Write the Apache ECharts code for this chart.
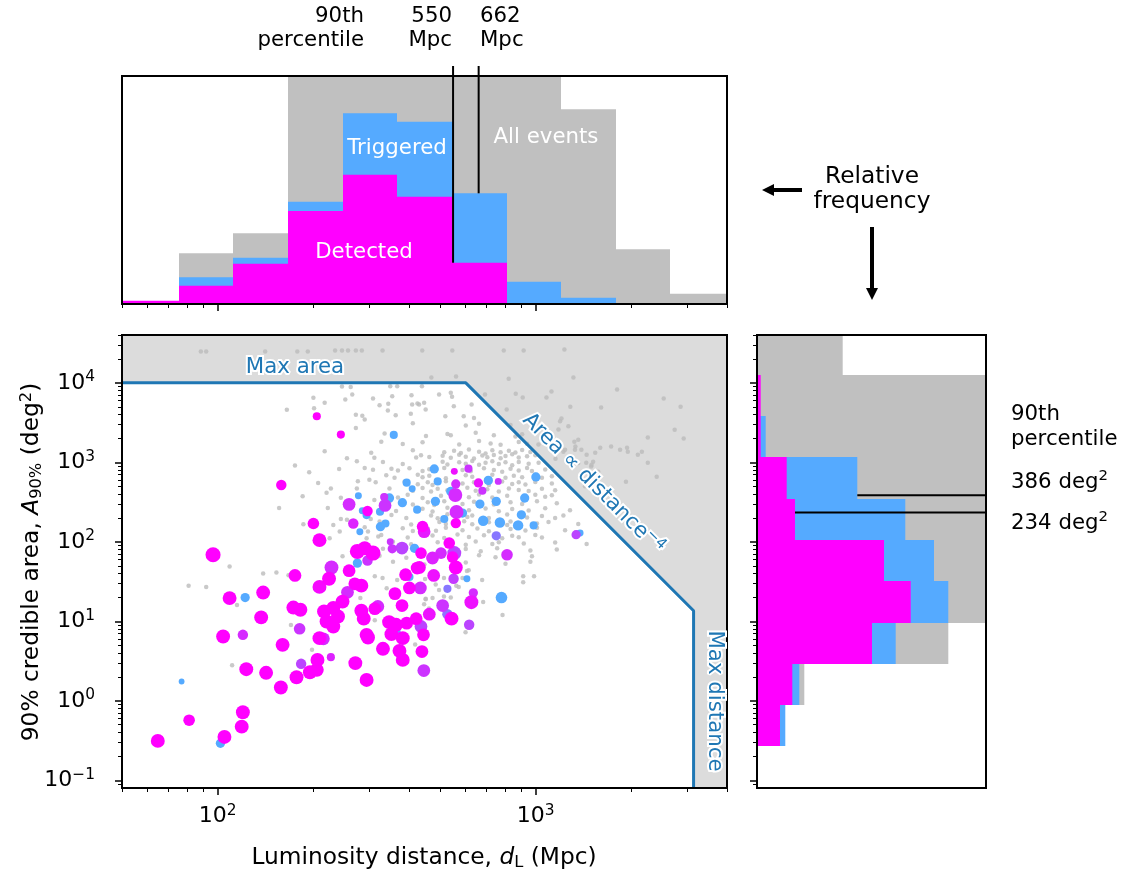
<!DOCTYPE html>
<html><head><meta charset="utf-8">
<script src="https://cdn.jsdelivr.net/npm/echarts@6/dist/echarts.min.js"></script>
<style>html,body{margin:0;padding:0;background:#fff}#c{width:1128px;height:873px}</style>
</head><body><div id="c"></div>
<script>
// ---------------- DATA ----------------
const distEdges = [50, 75.4, 112, 166, 247, 367, 549, 810, 1203, 1787, 2655, 4000];
const histAllTop  = [2, 50.7, 70.7, 265, 310, 330, 300, 260, 194.7, 54.7, 10.3];
const histTrigTop = [2, 26.7, 46.3, 102.3, 190.7, 182.3, 110.7, 22.3, 6.3, 0, 0];
const histDetTop  = [3.3, 18.3, 40.3, 93, 129.3, 107.3, 41.3, 0.7, 0.7, 0, 0];

const areaEdges = [0.08, 0.268, 0.887, 2.92, 9.66, 31.7, 105, 349, 1156, 3796, 12460, 40000];
const histAllRight  = [0, 26, 47.3, 191.3, 260, 300, 320, 310, 290, 250, 85.7];
const histTrigRight = [0, 28.3, 42.3, 138.7, 191.3, 177, 148.3, 100.3, 8.7, 3, 0];
const histDetRight  = [0, 23, 35.3, 115, 153.7, 127, 38, 29.7, 3.7, 3.7, 0];

const distP90 = {det: 550, trig: 662};
const areaP90 = {trig: 386, det: 234};

const boundaryDist = [50, 603, 3140, 3140];
const boundaryArea = [10000, 10000, 13.6, 0.08];

const xMajorTicks = [100, 1000];
const xMinorTicks = [50, 60, 70, 80, 90, 200, 300, 400, 500, 600, 700, 800, 900, 2000, 3000, 4000];
const yMajorTicks = [0.1, 1, 10, 100, 1000, 10000];
const yMinorTicks = [0.09, 0.2, 0.3, 0.4, 0.5, 0.6, 0.7, 0.8, 0.9, 2, 3, 4, 5, 6, 7, 8, 9,
  20, 30, 40, 50, 60, 70, 80, 90, 200, 300, 400, 500, 600, 700, 800, 900,
  2000, 3000, 4000, 5000, 6000, 7000, 8000, 9000, 20000, 30000, 40000];

// all events: [distance Mpc, area deg2]
const allEvents = [
[88.5,24800],[92,24800],[141,24800],[178,24800],[192,24800],[234,25500],[246,25500],[257,25500],[272,25500],[284,25500],[330,25500],[440,25500],[547,25500],[794,25500],[917,25500],[1232,26300],
[470,11660],[562,12040],[823,11300],[1315,11660],[693,7130],[866,7300],[911,6530],[1082,6530],[1122,7760],[1804,8240],[2529,6340],[2858,5020],[1286,5020],[1607,4890],[811,4610],[1206,3550],[1324,1820],[1334,1580],[1393,1445],[1540,1325],[1597,1530],[1728,1580],[1844,1445],[1939,1530],[1950,1364],[2097,1250],[2159,1364],[2254,991],[2404,661],[2738,2580],[2923,1990],[2254,2050],[1517,1020],[1443,991],[1496,884],[1574,764],[1924,572],[1223,1364],[1155,1113],[1021,1672],
[1180,2582],[1268,2843],[1362,1931],[1330,1445],[1447,1250],[1500,935],[1362,981],[1238,1445],[1194,3287],[1430,499],[1379,667],
[200,6500],[165,4600],[201,4790],[217,5610],[246,9000],[262,8850],[265,7120],[252,6160],[308,6370],[323,5230],[344,5440],[349,9060],[367,9060],[354,6780],[407,6980],[409,5330],[425,5500],[439,9060],[285,3870],[290,3450],[272,3980],[343,4480],[363,3900],[405,4100],[272,2700],[217,1380],[255,1130],[274,1030],[304,1320],[311,1140],[175,910],[194,750],[241,825],[290,850],[308,806],[300,603],[314,560],[276,580],[274,470],[207,550],[227,470],[185,375],[220,415],[244,358],[311,337],[156,266],[222,266],[244,194],[255,189],[303,194],[186,167],[231,163],[290,153],[297,135],[242,135],[225,111],[294,111],[320,117],
[430,5330],[446,5610],[451,4610],[497,7120],[541,7500],[546,6700],[629,5330],[553,5060],[520,3800],[594,3800],[640,3610],
[411,3100],[603,2900],[664,3050],[834,2950],
[335,2300],[452,2150],[528,2280],[541,2190],[648,2350],[739,2200],[864,2120],[907,2260],
[327,1820],[382,1700],[441,1790],[575,1680],[664,1850],[722,1730],[776,1660],[885,1800],[940,1710],
[411,1420],[516,1340],[554,1400],[582,1310],[617,1450],[664,1360],[696,1290],[731,1420],[776,1340],[824,1400],[864,1330],[907,1430],[963,1350],
[421,1150],[436,1230],[463,1170],[510,1210],[541,1140],[575,1250],[603,1180],[640,1120],[680,1220],[705,1160],[739,1240],[776,1130],[804,1200],[844,1260],[885,1150],[940,1190],[998,1230],
[331,1010],[382,950],[510,1020],[528,940],[575,1000],[603,960],[632,1040],[664,930],[696,990],[731,1030],[766,950],[804,1000],[844,920],[885,1010],[951,960],[1022,990],
[352,830],[369,790],[401,840],[441,780],[463,820],[516,850],[589,800],[625,770],[688,840],[739,800],[785,760],[834,830],[885,790],[940,850],[974,780],[1072,810],
[339,690],[360,640],[426,700],[441,650],[463,680],[522,630],[603,690],[632,660],[731,700],[804,640],[854,680],[907,650],[998,700],[1047,640],[1125,670],
[387,570],[426,530],[458,560],[474,520],[522,580],[589,540],[640,560],[713,520],[785,575],[844,535],[885,560],[929,525],[998,565],[1125,540],
[347,470],[411,440],[441,475],[469,430],[492,465],[528,445],[610,480],[648,440],[705,460],[766,430],[824,470],[885,450],[951,435],[1047,465],[1152,445],
[335,385],[369,360],[396,390],[441,355],[504,380],[617,365],[664,395],[731,360],[814,380],[929,350],[998,390],[1072,370],[1125,385],
[347,320],[411,295],[458,315],[480,290],[516,325],[589,300],[640,320],[739,295],[834,315],[907,300],[1010,325],[1166,305],
[331,265],[364,245],[441,260],[474,240],[528,268],[617,250],[696,262],[766,242],[844,258],[951,248],[1072,265],[1283,250],
[352,218],[392,200],[469,215],[492,198],[528,222],[610,205],[632,215],[713,200],[814,220],[940,202],[1047,212],[1152,200],[1223,215],
[323,180],[406,165],[498,178],[522,168],[596,182],[632,166],[713,176],[814,163],[834,180],[1010,170],[1098,178],[1362,168],
[382,148],[411,137],[458,146],[486,138],[522,150],[589,140],[656,147],[713,136],[834,145],[929,139],[1010,150],[1238,140],
[327,122],[396,113],[474,120],[516,112],[568,124],[617,115],[688,121],[785,111],[844,119],[885,114],[998,122],[1047,113],
[356,100],[406,93],[492,99],[603,92],[648,101],[731,94],[766,99],[918,95],[1152,98],[1447,94],
[331,82],[510,77],[603,81],[672,76],[757,83],[963,78],[1166,80],
[323,67],[392,63],[664,68],[748,64],[974,66],
[356,56],[447,52],[603,55],[804,53],[963,56],
[109,49],[139,40],[153,41],[167,38],[81,28],[92,27],[115,16],[170,9],[198,4.4],[111,2.8],[247,66],[270,68],[281,19.6],[312,37],[330,35],[312,10.3],[340,26],[367,33],[418,5.1],[446,16.4],[451,19.2],[449,34],
[989,37],[914,37],[914,31],[679,33],[608,43],[616,44],[589,35],[573,27],[563,28],[684,17.5],[787,12],[602,7.3],[515,35],[541,20],[515,20.5],[485,29],[497,24.7],[474,19.6],[451,19],[462,14.5]
];

// triggered / detected events: [distance Mpc, area deg2, detection fraction (0 = triggered only, 1 = detected), SNR]
const trigEvents = [
[205,3796,1,14],[244,2233,1,14],[358,2214,0,14],[158.5,519,1,18],[393,555,0,14],[409,466,0,12],[277,381,0,12],[334,367,0.7,14],[347,356,0,16],[259,296,0.75,22],[336,287,0.7,22],[381,311,0,16],[296,244,1,18],[285,246,0,12],[294,217,0,14],[324,239,0,14],[424,254,0,14],[200,170,1,20],[267,170,0.8,18],[325,155,0,16],[337,170,0,14],[280,134,0,12],[209,105,1,24],[441,156,1,20],[349,100,0.7,12],[96.7,68.7,1,26],[275,75.7,1,26],[290,83,1,24],[308,72.2,1,26],[354,81.8,0.7,16],[380,83.5,0.6,22],[416,83,0,16],[436,72.2,1,20],[275,54,0,16],[296,58.3,0.7,18],[228,47.6,0.75,24],[259,43.3,1,22],[175,37.8,1,22],[224,34.3,1,24],[209,27.1,0.95,24],[283,28.1,1,24],[270,29.6,1,22],[390,38.6,1,22],[401,36.1,0,14],[424,46.8,1,22],[401,26.3,1,22],[434,26.3,0.75,22],[361,22.3,1,22],[256,23.2,0.75,22],[247,17.7,1,24],[139,23,1,24],[109,19.6,1,24],[122,19.9,0,16],[380,15.8,1,22],[319,15.4,0.75,22],[312,14.4,1,22],[216,13.3,1,24],[231,14.7,1,24],[239,11.5,1,24],[220,9.95,1,24],[231,8.61,1,24],[283,13.6,1,24],[288,10.8,1,24],[173,14.9,1,24],[182,14,1,24],[137,11.2,1,24],[104,6.44,1,24],[120,6.76,0.75,18],[181,8.05,0.7,20],[160,5.06,1,24],[209,6.14,1,24],[215,6.02,0.75,22],[294,6.76,1,24],[297,6.25,1,24],[346,9.77,1,24],[364,9.04,1,24],[352,6.9,1,24],[364,7.31,0,16],[382,6.14,1,24],[393,9.49,1,22],[421,10.8,1,22],[436,8.61,0.6,22],[444,6.76,1,22],[331,4.51,1,24],[373,4.25,1,24],[382,3.27,1,24],[439,4.17,1,22],[445,2.4,0.7,22],[206,3.27,1,24],[205,2.45,1,24],[195,2.29,1,24],[227,3.54,0.8,14],[183,2.92,0.6,18],[271,2.98,1,24],[294,1.83,1,24],[123,2.5,1,24],[142,2.25,1,24],[177,1.98,1,24],[158,1.47,1,24],[77,1.75,0,10],[120,0.718,1,24],[119,0.473,1,24],[81.3,0.57,1,20],[102,0.292,0,16],[105,0.351,1,24],[64.8,0.313,1,24],
[480,826,0,16],[555,770,0.9,12],[615,833,0.7,14],[492,576,0,14],[561,535,0.75,16],[661,550,0.9,16],[710,593,0,16],[763,576,0.7,12],[680,440,0.7,14],[1002,655,0,16],[541,431,0,16],[559,388,0.75,24],[924,356,0,16],[752,323,0,16],[668,299,0,16],[484,323,0,16],[564,237,0.75,24],[589,230,0,16],[561,172,1,18],[516,194,0,14],[684,184,0,18],[902,219,0,16],[772,175,0,18],[881,161,0,18],[986,161,0,14],[752,119,0.3,16],[1341,123,0.6,16],[1380,129,0,12],[535,96.6,1,20],[504,72.2,0.75,20],[555,72.2,0.6,24],[548,64.4,1,20],[813,68.7,0.75,20],[474,62.6,0.8,22],[561,47.6,1,24],[431,47.6,1,22],[478,37.8,0.9,22],[552,34.3,0.65,18],[608,34.3,0,12],[528,25.6,0.3,14],[510,15.8,0.7,22],[637,22.8,0.75,16],[628,17.4,0.9,24],[781,19.9,0,20],[463,12.3,0.9,22],[528,12.3,0.35,18],[544,10.8,1,24],[618,9.04,0.6,18],[446,134,0.85,22]
];

// ---------------- STYLE ----------------
const F = 'DejaVu Sans';
const FS = 22;      // tick labels
const FT = 21.3;    // annotation text
const FA = 23.3;    // axis titles
const C_ALL = '#c0c0c0', C_TRIG = '#55aaff', C_DET = '#ff00ff', C_LINE = '#1f77b4';
function cool(t) { const r = Math.round(85 + 170 * t), g = Math.round(170 - 170 * t); return `rgb(${r},${g},255)`; }

const chart = echarts.init(document.getElementById('c'), null, {renderer: 'canvas'});

const grids = [
  {left: 122, top: 76, width: 605, height: 228},
  {left: 122, top: 335, width: 605, height: 453, show: true, backgroundColor: '#dcdcdc', borderWidth: 0},
  {left: 757, top: 335, width: 229, height: 453}
];

const richTick = {
  b: {fontSize: FS, fontFamily: F, color: '#000', lineHeight: 26},
  s: {fontSize: FS * 0.7, fontFamily: F, color: '#000', lineHeight: 12, verticalAlign: 'top'}
};
function supFmt(v) { const e = Math.round(Math.log10(v)); return '{b|10}{s|' + (e < 0 ? '\u2212' + (-e) : e) + '}'; }

function logAxis(gridIndex, min, max, ticks, len, width, position, label) {
  return {
    type: 'log', logBase: 10, gridIndex, min, max, position,
    axisLine: {show: false}, splitLine: {show: false},
    axisTick: {show: true, customValues: ticks, length: len, lineStyle: {color: '#000', width}},
    axisLabel: label || {show: false}
  };
}

const xAxes = [
  logAxis(0, 50, 4000, xMajorTicks, 7, 1.5, 'bottom'),
  logAxis(0, 50, 4000, xMinorTicks, 4, 1, 'bottom'),
  logAxis(1, 50, 4000, xMajorTicks, 7, 1.5, 'bottom', {show: true, customValues: xMajorTicks, formatter: supFmt, rich: richTick, margin: 15}),
  logAxis(1, 50, 4000, xMinorTicks, 4, 1, 'bottom'),
  {type: 'value', gridIndex: 2, min: 0, max: 229, show: false}
];
const yAxes = [
  {type: 'value', gridIndex: 0, min: 0, max: 228, show: false},
  logAxis(1, 0.08, 40000, yMajorTicks, 7, 1.5, 'left', {show: true, customValues: yMajorTicks, formatter: supFmt, rich: richTick, margin: 27}),
  logAxis(1, 0.08, 40000, yMinorTicks, 4, 1, 'left'),
  logAxis(2, 0.08, 40000, yMajorTicks, 7, 1.5, 'left'),
  logAxis(2, 0.08, 40000, yMinorTicks, 4, 1, 'left')
];

function topBar(color) {
  return function (params, api) {
    const p0 = api.coord([api.value(0), 0]);
    const p1 = api.coord([api.value(1), api.value(2)]);
    const x0 = Math.round(p0[0]), x1 = Math.round(p1[0]);
    return {type: 'rect', shape: {x: x0, y: p1[1], width: x1 - x0, height: p0[1] - p1[1]}, style: {fill: color}};
  };
}
function rightBar(color) {
  return function (params, api) {
    const p0 = api.coord([0, api.value(0)]);
    const p1 = api.coord([api.value(2), api.value(1)]);
    const y0 = Math.round(p0[1]), y1 = Math.round(p1[1]);
    return {type: 'rect', shape: {x: p0[0], y: y1, width: p1[0] - p0[0], height: y0 - y1}, style: {fill: color}};
  };
}
const topData = h => h.map((v, i) => [distEdges[i], distEdges[i + 1], v]);
const rightData = h => h.map((v, i) => [areaEdges[i], areaEdges[i + 1], v]);

const boundary = boundaryDist.map((d, i) => [d, boundaryArea[i]]);
const trigSorted = trigEvents.slice().sort((a, b) => a[2] - b[2]);

const series = [
  // top histogram
  {type: 'custom', xAxisIndex: 0, yAxisIndex: 0, clip: true, renderItem: topBar(C_ALL), encode: {x: [0, 1], y: 2}, data: topData(histAllTop), z: 1},
  {type: 'custom', xAxisIndex: 0, yAxisIndex: 0, clip: true, renderItem: topBar(C_TRIG), encode: {x: [0, 1], y: 2}, data: topData(histTrigTop), z: 2},
  {type: 'custom', xAxisIndex: 0, yAxisIndex: 0, clip: true, renderItem: topBar(C_DET), encode: {x: [0, 1], y: 2}, data: topData(histDetTop), z: 3},
  {type: 'line', xAxisIndex: 0, yAxisIndex: 0, clip: false, symbol: 'none', lineStyle: {color: '#000', width: 2}, data: [[distP90.det, histDetTop[6]], [distP90.det, 238]], z: 5},
  {type: 'line', xAxisIndex: 0, yAxisIndex: 0, clip: false, symbol: 'none', lineStyle: {color: '#000', width: 2}, data: [[distP90.trig, histTrigTop[6]], [distP90.trig, 238]], z: 5},
  // right histogram
  {type: 'custom', xAxisIndex: 4, yAxisIndex: 3, clip: true, renderItem: rightBar(C_ALL), encode: {x: 2, y: [0, 1]}, data: rightData(histAllRight), z: 1},
  {type: 'custom', xAxisIndex: 4, yAxisIndex: 3, clip: true, renderItem: rightBar(C_TRIG), encode: {x: 2, y: [0, 1]}, data: rightData(histTrigRight), z: 2},
  {type: 'custom', xAxisIndex: 4, yAxisIndex: 3, clip: true, renderItem: rightBar(C_DET), encode: {x: 2, y: [0, 1]}, data: rightData(histDetRight), z: 3},
  {type: 'line', xAxisIndex: 4, yAxisIndex: 3, clip: false, symbol: 'none', lineStyle: {color: '#000', width: 2}, data: [[histTrigRight[7], areaP90.trig], [238.7, areaP90.trig]], z: 5},
  {type: 'line', xAxisIndex: 4, yAxisIndex: 3, clip: false, symbol: 'none', lineStyle: {color: '#000', width: 2}, data: [[histDetRight[6], areaP90.det], [238.7, areaP90.det]], z: 5},
  // main: white allowed region
  {type: 'line', xAxisIndex: 2, yAxisIndex: 1, symbol: 'none', lineStyle: {opacity: 0, width: 0}, areaStyle: {color: '#ffffff', opacity: 1, origin: 'start'}, data: boundary, z: 1},
  {type: 'scatter', xAxisIndex: 2, yAxisIndex: 1, symbolSize: 4.5, itemStyle: {color: '#bbbbbb'}, data: allEvents, z: 2},
  {type: 'scatter', xAxisIndex: 2, yAxisIndex: 1, symbolSize: v => v[3] * 0.58, itemStyle: {color: p => cool(p.value[2]), opacity: 1}, data: trigSorted, z: 3},
  {type: 'line', xAxisIndex: 2, yAxisIndex: 1, symbol: 'none', lineStyle: {color: C_LINE, width: 3}, data: boundary, z: 4}
];

const txt = (x, y, text, style, extra) => Object.assign({type: 'text', x, y, z: 100, silent: true,
  style: Object.assign({text, fontSize: FT, fontFamily: F, fill: '#000', align: 'center', verticalAlign: 'middle'}, style || {})}, extra || {});
const halo = {fill: C_LINE, stroke: '#fff', lineWidth: 4};
const richSup = (fill, stroke, fs) => ({
  n: {fontSize: fs, fontFamily: F, fill: fill, stroke: stroke, lineWidth: stroke ? 4 : 0, lineHeight: 26},
  i: {fontSize: fs, fontFamily: F, fontStyle: 'italic', fill: fill, lineHeight: 26},
  sup: {fontSize: fs * 0.7, fontFamily: F, fill: fill, stroke: stroke, lineWidth: stroke ? 4 : 0, lineHeight: 12, verticalAlign: 'top'},
  sub: {fontSize: fs * 0.7, fontFamily: F, fill: fill, lineHeight: 18, verticalAlign: 'bottom'}
});

const frames = [grids[0], grids[1], grids[2]].map(g => ({type: 'rect', z: 100, silent: true,
  shape: {x: g.left, y: g.top, width: g.width, height: g.height}, style: {fill: 'none', stroke: '#000', lineWidth: 2}}));

const graphic = frames.concat([
  // top labels
  txt(364, 28, '90th\npercentile', {align: 'right', lineHeight: 24}),
  txt(452, 28, '550\nMpc', {align: 'right', lineHeight: 24}),
  txt(480, 28, '662\nMpc', {align: 'left', lineHeight: 24}),
  // hist labels
  txt(397, 148, 'Triggered', {fill: '#fff'}),
  txt(364, 252, 'Detected', {fill: '#fff'}),
  txt(546, 137, 'All events', {fill: '#fff'}),
  // relative frequency
  txt(872, 189, 'Relative\nfrequency', {lineHeight: 25, fontSize: FA}),
  {type: 'line', z: 100, silent: true, shape: {x1: 802, y1: 190, x2: 771, y2: 190}, style: {stroke: '#000', lineWidth: 4}},
  {type: 'polygon', z: 100, silent: true, shape: {points: [[762, 190], [774, 184], [774, 196]]}, style: {fill: '#000'}},
  {type: 'line', z: 100, silent: true, shape: {x1: 872, y1: 227, x2: 872, y2: 290}, style: {stroke: '#000', lineWidth: 4}},
  {type: 'polygon', z: 100, silent: true, shape: {points: [[872, 300], [866, 288], [878, 288]]}, style: {fill: '#000'}},
  // right labels
  txt(1011, 427, '90th\npercentile', {align: 'left', lineHeight: 25}),
  txt(1011, 482, '{n|386 deg}{sup|2}', {align: 'left', rich: richSup('#000', null, FT)}),
  txt(1011, 523, '{n|234 deg}{sup|2}', {align: 'left', rich: richSup('#000', null, FT)}),
  // region labels
  txt(295, 367, 'Max area', halo),
  txt(0, 0, '{n|Area \u221d distance}{sup|\u22124}', {rich: richSup(C_LINE, '#fff', FT)}, {x: 593, y: 484, rotation: -Math.PI / 4}),
  txt(0, 0, 'Max distance', halo, {x: 715, y: 701, rotation: -Math.PI / 2}),
  // axis titles
  txt(424, 858, '{n|Luminosity distance, }{i|d}{sub|L}{n| (Mpc)}', {rich: richSup('#000', null, FA)}),
  txt(0, 0, '{n|90% credible area, }{i|A}{sub|90%}{n| (deg}{sup|2}{n|)}', {rich: richSup('#000', null, FA)}, {x: 32, y: 562, rotation: Math.PI / 2})
]);

chart.setOption({
  animation: false,
  backgroundColor: '#ffffff',
  grid: grids,
  xAxis: xAxes,
  yAxis: yAxes,
  series: series.map(s => Object.assign({silent: true}, s)),
  graphic: graphic
});
</script></body></html>
